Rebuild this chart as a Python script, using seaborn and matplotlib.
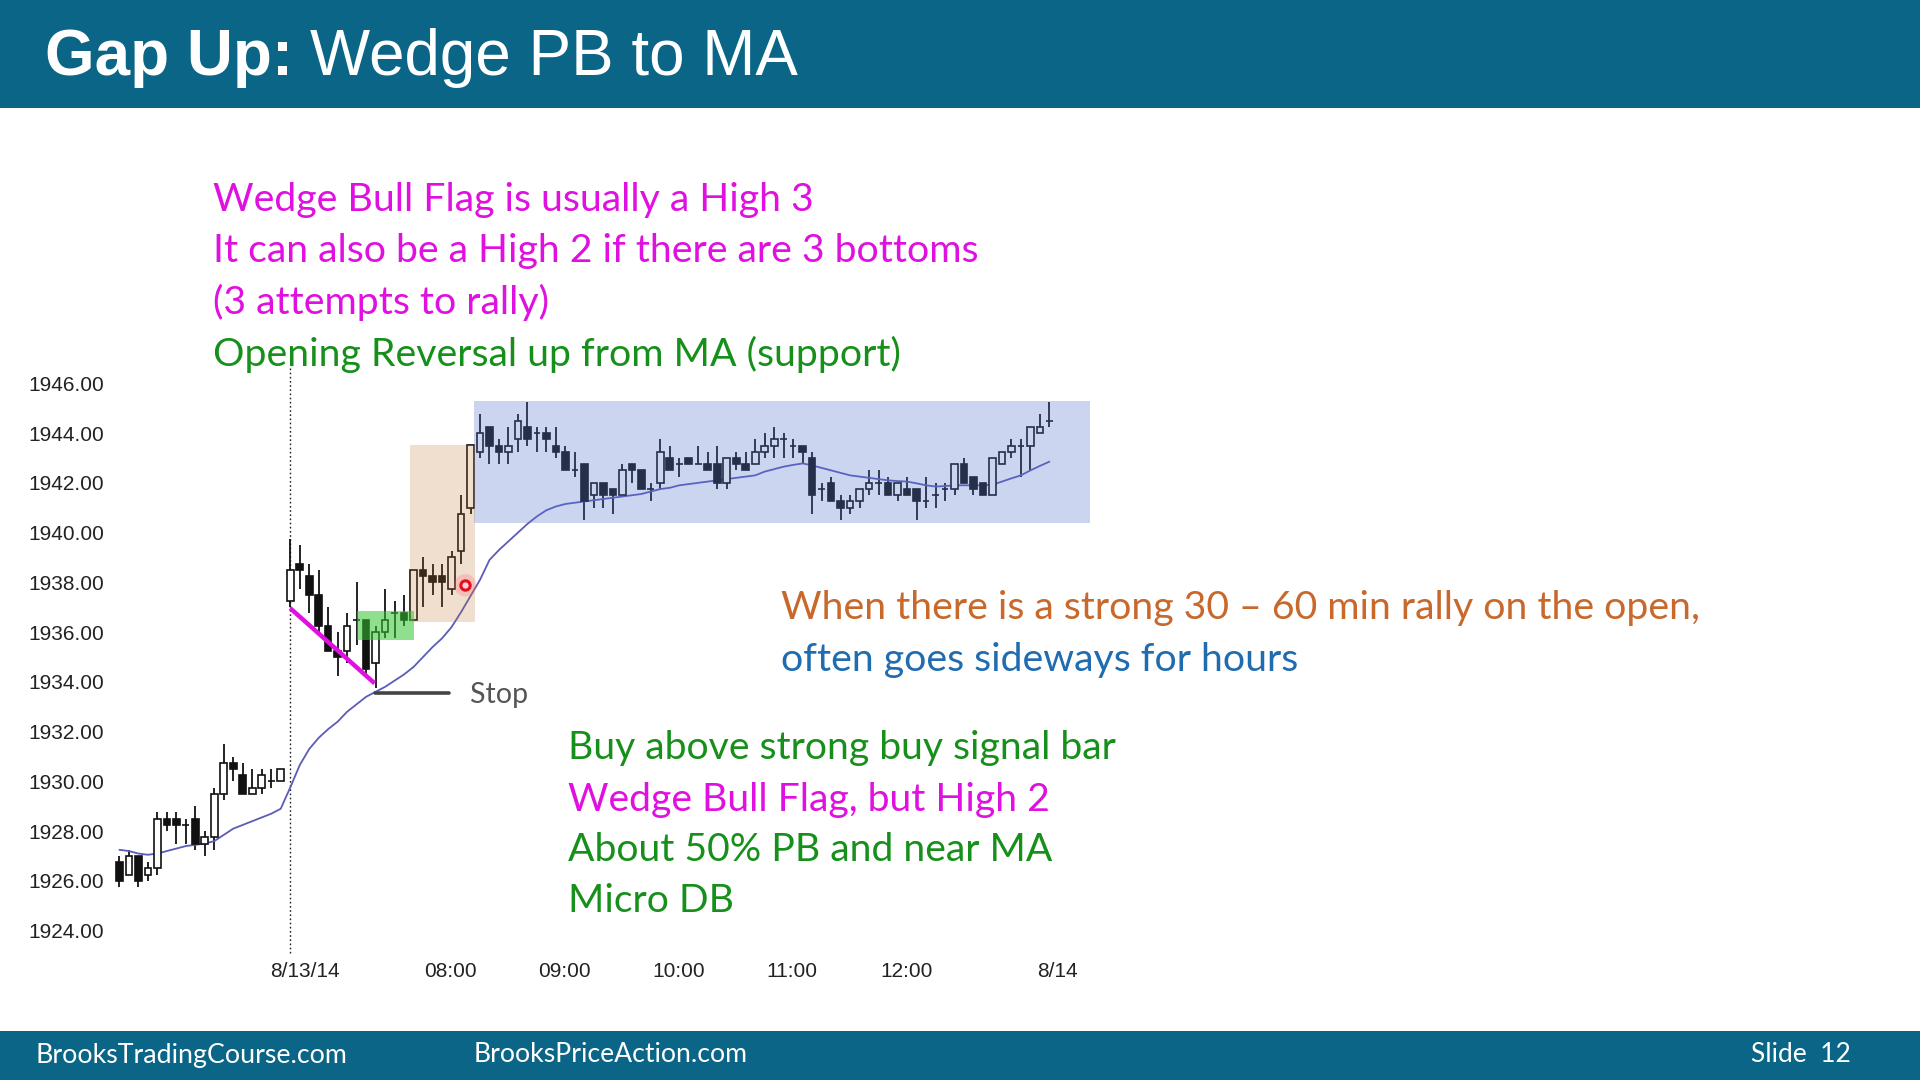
import numpy as np
import pandas as pd
import matplotlib
matplotlib.use("Agg")
import matplotlib.pyplot as plt
import seaborn as sns
from matplotlib.patches import Rectangle

# ---------------- data ----------------
bar_idx = list(range(-18, 81))
opens = [1926.75, 1926.25, 1927.0, 1926.25, 1926.5, 1928.5, 1928.5, 1928.25, 1928.5, 1927.5,
         1927.75, 1929.5, 1930.75, 1930.25, 1929.5, 1929.75, 1930.0, 1930.0,
         1937.25, 1938.75, 1938.25, 1937.5, 1936.25, 1935.25, 1935.25, 1936.5, 1936.5, 1934.75,
         1936.0, 1936.75, 1936.75, 1936.5, 1938.5, 1938.25, 1938.25, 1937.75, 1939.25, 1941.0,
         1943.25, 1944.25, 1943.5, 1943.25, 1943.75, 1944.25, 1944.0, 1944.0, 1943.5, 1943.25,
         1942.5, 1942.75, 1941.5, 1942.0, 1941.75, 1941.5, 1942.75, 1942.5, 1941.75, 1942.0,
         1943.0, 1942.75, 1943.0, 1942.75, 1942.75, 1942.75, 1942.0, 1943.0, 1942.75, 1942.75,
         1943.25, 1943.5, 1943.75, 1943.5, 1943.5, 1943.0, 1941.75, 1942.0, 1941.25, 1941.0,
         1941.25, 1941.75, 1942.0, 1942.0, 1941.5, 1941.75, 1941.75, 1941.25, 1941.5, 1941.75,
         1941.75, 1942.75, 1942.25, 1942.0, 1941.5, 1942.75, 1943.25, 1943.5, 1943.5, 1944.0,
         1944.5]
highs = [1927.0, 1927.25, 1927.0, 1926.75, 1928.75, 1928.75, 1928.75, 1928.5, 1929.0, 1928.0,
         1929.75, 1931.5, 1931.0, 1930.75, 1930.5, 1930.5, 1930.5, 1930.5,
         1939.75, 1939.5, 1938.75, 1938.5, 1937.0, 1936.0, 1936.75, 1938.0, 1936.5, 1936.25,
         1937.75, 1937.25, 1937.5, 1938.5, 1939.0, 1938.75, 1938.75, 1939.25, 1941.5, 1943.5,
         1944.75, 1944.25, 1943.75, 1944.25, 1944.75, 1945.25, 1944.25, 1944.25, 1944.25, 1943.5,
         1943.25, 1942.75, 1942.0, 1942.0, 1941.75, 1942.75, 1942.75, 1942.5, 1942.0, 1943.75,
         1943.5, 1943.0, 1943.0, 1943.5, 1943.25, 1943.5, 1943.0, 1943.25, 1943.25, 1943.75,
         1944.0, 1944.25, 1944.0, 1943.75, 1943.5, 1943.25, 1942.0, 1942.25, 1941.5, 1941.5,
         1941.75, 1942.5, 1942.5, 1942.25, 1942.0, 1942.25, 1941.75, 1942.25, 1942.0, 1942.0,
         1942.75, 1943.0, 1942.25, 1942.0, 1943.0, 1943.25, 1943.75, 1943.75, 1944.25, 1944.75,
         1945.25]
lows = [1925.75, 1926.25, 1925.75, 1926.0, 1926.25, 1928.0, 1927.5, 1927.5, 1927.25, 1927.0,
        1927.25, 1929.25, 1930.0, 1929.5, 1929.5, 1929.5, 1929.75, 1930.0,
        1937.0, 1937.75, 1936.75, 1936.0, 1935.25, 1934.25, 1934.75, 1935.5, 1934.25, 1933.75,
        1935.75, 1935.75, 1936.25, 1936.5, 1937.0, 1937.5, 1937.0, 1937.5, 1938.75, 1940.75,
        1943.0, 1942.75, 1942.75, 1942.75, 1943.25, 1943.5, 1943.25, 1943.25, 1943.0, 1942.5,
        1942.25, 1940.5, 1941.0, 1941.0, 1940.75, 1941.5, 1942.0, 1941.75, 1941.25, 1941.75,
        1942.5, 1942.25, 1942.75, 1942.75, 1942.5, 1941.75, 1941.75, 1942.5, 1942.5, 1942.75,
        1943.0, 1943.0, 1943.0, 1943.0, 1942.75, 1940.75, 1941.25, 1941.25, 1940.5, 1940.75,
        1941.0, 1941.5, 1941.5, 1941.5, 1941.25, 1941.5, 1940.5, 1941.0, 1941.0, 1941.25,
        1941.5, 1942.0, 1941.5, 1941.5, 1941.5, 1942.75, 1943.0, 1942.25, 1942.5, 1944.0,
        1944.25]
closes = [1926.0, 1927.0, 1926.0, 1926.5, 1928.5, 1928.25, 1928.25, 1928.25, 1927.5, 1927.75,
          1929.5, 1930.75, 1930.5, 1929.5, 1929.75, 1930.25, 1930.0, 1930.5,
          1938.5, 1938.5, 1937.5, 1936.25, 1935.25, 1935.0, 1936.25, 1936.5, 1934.5, 1936.0,
          1936.5, 1936.75, 1936.5, 1938.5, 1938.25, 1938.0, 1938.0, 1939.0, 1940.75, 1943.5,
          1944.0, 1943.5, 1943.25, 1943.5, 1944.5, 1943.75, 1944.0, 1943.75, 1943.25, 1942.5,
          1942.5, 1941.25, 1942.0, 1941.5, 1941.5, 1942.5, 1942.5, 1941.75, 1941.75, 1943.25,
          1942.5, 1942.75, 1942.75, 1942.75, 1942.5, 1942.0, 1943.0, 1942.75, 1942.5, 1943.25,
          1943.5, 1943.75, 1943.75, 1943.5, 1943.25, 1941.5, 1941.75, 1941.25, 1941.0, 1941.25,
          1941.75, 1942.0, 1942.0, 1941.5, 1942.0, 1941.5, 1941.25, 1941.25, 1941.5, 1941.75,
          1942.75, 1942.0, 1941.75, 1941.5, 1943.0, 1943.25, 1943.5, 1943.5, 1944.25, 1944.25,
          1944.5]
ma_values = [1927.25, 1927.2, 1927.1, 1927.05, 1927.1, 1927.2, 1927.3, 1927.4, 1927.45, 1927.5,
             1927.6, 1927.85, 1928.1, 1928.25, 1928.4, 1928.55, 1928.7, 1928.9,
             1929.75, 1930.65, 1931.3, 1931.75, 1932.1, 1932.4, 1932.8, 1933.1, 1933.4, 1933.6,
             1933.8, 1934.05, 1934.3, 1934.6, 1935.0, 1935.4, 1935.75,
             1936.2, 1936.8, 1937.45, 1938.1, 1938.9, 1939.3, 1939.65, 1940.0, 1940.35, 1940.65,
             1940.9, 1941.05, 1941.15, 1941.2,
             1941.25, 1941.3, 1941.35, 1941.4, 1941.45, 1941.5, 1941.55, 1941.65, 1941.75, 1941.8,
             1941.9, 1941.95, 1942.0, 1942.05, 1942.1, 1942.15, 1942.2, 1942.25, 1942.3, 1942.45,
             1942.55, 1942.65, 1942.72, 1942.78,
             1942.7, 1942.6, 1942.5, 1942.4, 1942.3, 1942.25, 1942.2, 1942.15, 1942.1, 1942.07,
             1942.05, 1941.98, 1941.9, 1941.85, 1941.87, 1941.9, 1941.9, 1941.9, 1941.9, 1941.92,
             1942.05, 1942.18, 1942.3, 1942.5, 1942.68, 1942.85]

y_ticks = [1924, 1926, 1928, 1930, 1932, 1934, 1936, 1938, 1940, 1942, 1944, 1946]
x_tick_labels = ["8/13/14", "08:00", "09:00", "10:00", "11:00", "12:00", "8/14"]

# annotation zones: (x0, x1, price_lo, price_hi)
blue_zone = (19.4, 84.3, 1940.39, 1945.27)
tan_zone = (12.6, 19.5, 1936.40, 1943.54)
green_zone = (7.0, 13.05, 1935.70, 1936.86)
wedge_line = ([0.0, 8.9], [1936.96, 1933.94])
stop_price = 1933.57
signal_dot = (18.45, 1937.88)

# ---------------- style ----------------
sns.set_theme(style="white")
plt.rcParams["font.family"] = ["Lato", "DejaVu Sans"]

TEAL = "#0a6586"
MAGENTA = "#e010e0"
GREEN = "#16901a"
ORANGE = "#c8682a"
BLUE = "#1f6cb0"

W, H = 1920, 1080
fig = plt.figure(figsize=(19.2, 10.8), dpi=100)
fig.patch.set_facecolor("white")


def fx(px):
    return px / W


def fy(py):
    return 1 - py / H


# header / footer bars
fig.patches.append(Rectangle((0, fy(108)), 1, 108 / H, transform=fig.transFigure,
                             facecolor=TEAL, edgecolor="none", zorder=0))
fig.patches.append(Rectangle((0, 0), 1, (1080 - 1031) / H, transform=fig.transFigure,
                             facecolor=TEAL, edgecolor="none", zorder=0))

# axes placement (pixel mapping of the reference chart)
X0, XPB = 290.2, 9.49        # px of bar 0, px per bar
Y0, PPP = 383.3, 24.88       # px of 1946, px per point
xlim = (-20, 90)
ylim = (1923.0, 1947.5)
left_px = X0 + xlim[0] * XPB
right_px = X0 + xlim[1] * XPB
top_px = Y0 - (ylim[1] - 1946) * PPP
bot_px = Y0 + (1946 - ylim[0]) * PPP
ax = fig.add_axes([fx(left_px), fy(bot_px), (right_px - left_px) / W, (bot_px - top_px) / H])
ax.set_facecolor("white")
ax.set_xlim(*xlim)
ax.set_ylim(*ylim)

n = min(len(bar_idx), len(opens), len(highs), len(lows), len(closes))
df = pd.DataFrame({"i": bar_idx[:n], "o": opens[:n], "h": highs[:n],
                   "l": lows[:n], "c": closes[:n]})
up = df["c"] >= df["o"]
CANDLE = "#111111"
ax.vlines(df["i"], df["l"], df["h"], color=CANDLE, lw=1.3, zorder=2)
ax.bar(df["i"], (df["c"] - df["o"]).abs(), bottom=np.minimum(df["o"], df["c"]),
       width=0.7, color=np.where(up, "white", CANDLE), edgecolor=CANDLE,
       linewidth=1.2, zorder=3)

ma_df = pd.DataFrame({"i": bar_idx[:len(ma_values)], "ma": ma_values[:len(bar_idx)]})
sns.lineplot(data=ma_df, x="i", y="ma", ax=ax, color="#5a5cb8", lw=1.3, zorder=2.5)

# zones (semi-transparent, drawn over the candles)
for (x0, x1, lo, hi), col, a in [(blue_zone, (88 / 255, 118 / 255, 208 / 255), 0.30),
                                  (tan_zone, "#c0782d", 0.23),
                                  (green_zone, (51 / 255, 197 / 255, 51 / 255), 0.55)]:
    ax.add_patch(Rectangle((x0, lo), x1 - x0, hi - lo, facecolor=col, alpha=a,
                           edgecolor="none", zorder=4))

ax.plot(wedge_line[0], wedge_line[1], color=MAGENTA, lw=3.2, zorder=5, solid_capstyle="butt")
ax.plot([8.93, 16.7], [stop_price, stop_price], color="#444444", lw=2.6, zorder=5)
ax.scatter([signal_dot[0]], [signal_dot[1]], s=260, color="#ff6070", alpha=0.25,
           edgecolors="none", zorder=6)
ax.scatter([signal_dot[0]], [signal_dot[1]], s=45, facecolor="#ffd0d0",
           edgecolors="#e01020", linewidths=2.2, zorder=7)

ax.vlines(0, 1923.1, 1946.66, colors="#222222", lw=1.0, linestyles=(0, (1.2, 1.8)), zorder=1)

ax.set_yticks(y_ticks)
ax.set_yticklabels([f"{v:.2f}" for v in y_ticks], family=["Liberation Sans", "DejaVu Sans"])
ax.set_xticks([1.55, 16.9, 28.9, 40.9, 52.9, 64.9, 80.8])
ax.set_xticklabels(x_tick_labels, family=["Liberation Sans", "DejaVu Sans"])
ax.tick_params(axis="y", length=0, pad=-2.6, labelsize=15, labelcolor="#222222")
ax.tick_params(axis="x", length=0, pad=5, labelsize=15, labelcolor="#222222")
ax.set_xlabel("")
ax.set_ylabel("")
sns.despine(ax=ax, left=True, bottom=True, top=True, right=True)
ax.grid(False)

# ---------------- texts ----------------
title_fam = ["Liberation Sans", "DejaVu Sans"]
t1 = fig.text(fx(45), fy(57.5), "Gap Up:", color="white", fontsize=46, weight="bold",
              family=title_fam, va="center", ha="left")
t2 = fig.text(fx(300), fy(57.5), "Wedge PB to MA", color="white", fontsize=46,
              family=title_fam, va="center", ha="left")

block1 = [("Wedge Bull Flag is usually a High 3", MAGENTA, 199.5),
          ("It can also be a High 2 if there are 3 bottoms", MAGENTA, 251),
          ("(3 attempts to rally)", MAGENTA, 302.5),
          ("Opening Reversal up from MA (support)", GREEN, 354)]
block2 = [("When there is a strong 30 \u2013 60 min rally on the open,", ORANGE, 608.5),
          ("often goes sideways for hours", BLUE, 660)]
block3 = [("Buy above strong buy signal bar", GREEN, 748),
          ("Wedge Bull Flag, but High 2", MAGENTA, 799.5),
          ("About 50% PB and near MA", GREEN, 850),
          ("Micro DB", GREEN, 901.5)]


def make_block(lines, x_px):
    return [fig.text(fx(x_px), fy(y), s, color=c, fontsize=26, va="center", ha="left")
            for s, c, y in lines]


b1 = make_block(block1, 213)
b2 = make_block(block2, 781)
b3 = make_block(block3, 568)
stop_t = fig.text(fx(470), fy(695), "Stop", color="#555555", fontsize=20, va="center", ha="left")

foot_fam = ["Liberation Sans Narrow", "Lato", "DejaVu Sans"]
f1 = fig.text(fx(35.5), fy(1055), "BrooksTradingCourse.com", color="white", fontsize=20,
              va="center", ha="left", family=foot_fam)
f2 = fig.text(fx(474), fy(1055), "BrooksPriceAction.com", color="white", fontsize=20,
              va="center", ha="left", family=foot_fam)
f3 = fig.text(fx(1751), fy(1055), "Slide  12", color="white", fontsize=20,
              va="center", ha="left", family=foot_fam)

fig.canvas.draw()
rend = fig.canvas.get_renderer()


def width(t):
    return t.get_window_extent(renderer=rend).width


def fit_block(texts, ref, target):
    s = texts[ref].get_fontsize() * target / width(texts[ref])
    for t in texts:
        t.set_fontsize(s)


fit_block(b1, 1, 765)
fit_block(b2, 0, 918)
fit_block(b3, 0, 547)
fit_block([stop_t], 0, 58)
fit_block([f1], 0, 311)
fit_block([f2], 0, 274)
fit_block([f3], 0, 100)

# title: fit the two parts to the total width
gap = lambda t: 0.27 * t.get_fontsize() * 100 / 72
total = width(t1) + gap(t1) + width(t2)
scale = 753 / total
t1.set_fontsize(t1.get_fontsize() * scale)
t2.set_fontsize(t2.get_fontsize() * scale)
fig.canvas.draw()
t2.set_x(fx(45 + width(t1) + gap(t1)))

fig.savefig("out.png", dpi=100, facecolor="white")
